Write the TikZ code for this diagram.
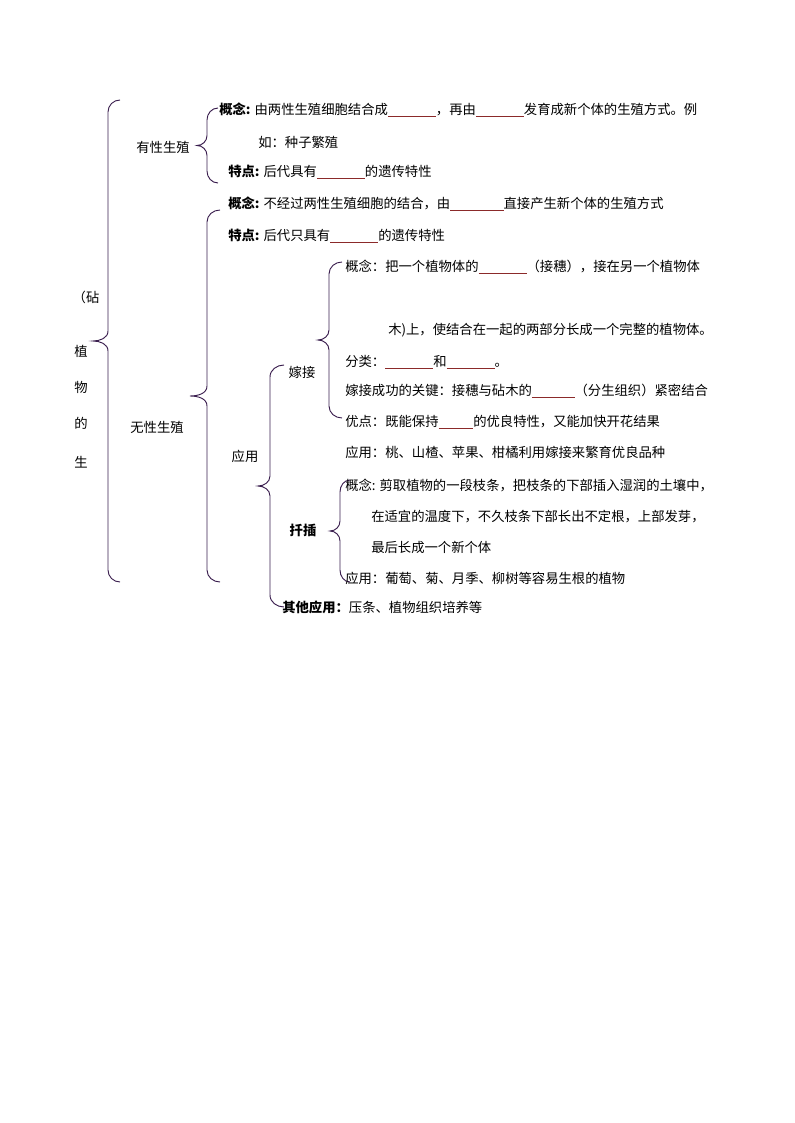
\documentclass[tikz,border=0pt]{standalone}
\usepackage{fontspec}
\setmainfont{Noto Sans CJK SC}
\usetikzlibrary{positioning}
\definecolor{bracecol}{HTML}{3A1E4E}
\definecolor{blankcol}{HTML}{8B2A2A}
\newcommand{\blank}[1]{\textcolor{blankcol}{\rule[-2pt]{#1pt}{0.6pt}}}
\newcommand{\bracel}[5]{% xv, top, bottom, tip x, right x
  \draw[brace] (#5,#2) to[out=180,in=90] (#1,#2+12) -- (#1,{(#2+#3)/2-10})
    to[out=-90,in=0] (#4,{(#2+#3)/2}) to[out=0,in=90] (#1,{(#2+#3)/2+10})
    -- (#1,#3-12) to[out=-90,in=180] (#5,#3);}
\tikzset{
  brace/.style={draw=bracecol,line width=0.7pt},
  txt/.style={anchor=west,inner sep=0pt,font=\fontsize{10}{12}\selectfont},
  lab/.style={inner sep=0pt,font=\fontsize{10}{12}\selectfont}
}
\begin{document}
\begin{tikzpicture}[x=0.75pt,y=-0.75pt]
\useasboundingbox (0,0) rectangle (794,1123);
% braces
\bracel{108}{100}{582}{93}{120}
\bracel{207}{108}{183}{197}{218}
\bracel{207}{210}{582}{190}{220}
\bracel{270}{365}{607}{258}{284}
\bracel{329}{262}{418}{318}{342}
\bracel{340}{480}{582}{330}{350}
% left column
\node[lab] (zhen) at (86,297) {（砧};
\node[lab] (zhi) at (81,351) {植};
\node[lab] (wu) at (81,387) {物};
\node[lab] (de) at (81,423) {的};
\node[lab] (sheng) at (81,462) {生};
% sexual
\node[lab] (youxing) at (163,147) {有性生殖};
\node[txt] (yxgn) at (219,110) {\textbf{概念:} 由两性生殖细胞结合成\blank{36}，再由\blank{36}发育成新个体的生殖方式。例};
\node[txt] (yxgn2) at (258,142) {如：种子繁殖};
\node[txt] (yxtd) at (228,172) {\textbf{特点:} 后代具有\blank{36}的遗传特性};
% asexual
\node[lab] (wuxing) at (157,427) {无性生殖};
\node[txt] (wxgn) at (228,204) {\textbf{概念:} 不经过两性生殖细胞的结合，由\blank{40}直接产生新个体的生殖方式};
\node[txt] (wxtd) at (228,236) {\textbf{特点:} 后代只具有\blank{36}的遗传特性};
\node[lab] (yingyong) at (245,456) {应用};
% grafting
\node[lab] (jiajie) at (302,372) {嫁接};
\node[txt] (jjgn) at (345,267) {概念：把一个植物体的\blank{36}（接穗），接在另一个植物体};
\node[txt] (jjgn2) at (388,330) {木)上，使结合在一起的两部分长成一个完整的植物体。};
\node[txt] (jjfl) at (345,362) {分类：\blank{36}和\blank{36}。};
\node[txt] (jjgj) at (345,391) {嫁接成功的关键：接穗与砧木的\blank{32}（分生组织）紧密结合};
\node[txt] (jjyd) at (345,422) {优点：既能保持\blank{26}的优良特性，又能加快开花结果};
\node[txt] (jjyy) at (345,452) {应用：桃、山楂、苹果、柑橘利用嫁接来繁育优良品种};
% cutting
\node[lab] (qiancha) at (303,530) {\textbf{扦插}};
\node[txt] (qcgn) at (345,485) {概念: 剪取植物的一段枝条，把枝条的下部插入湿润的土壤中，};
\node[txt] (qcgn2) at (371,517) {在适宜的温度下，不久枝条下部长出不定根，上部发芽，};
\node[txt] (qcgn3) at (371,547) {最后长成一个新个体};
\node[txt] (qcyy) at (345,578) {应用：葡萄、菊、月季、柳树等容易生根的植物};
\node[txt] (qtyy) at (282,607) {\textbf{其他应用：}压条、植物组织培养等};
\end{tikzpicture}
\end{document}
